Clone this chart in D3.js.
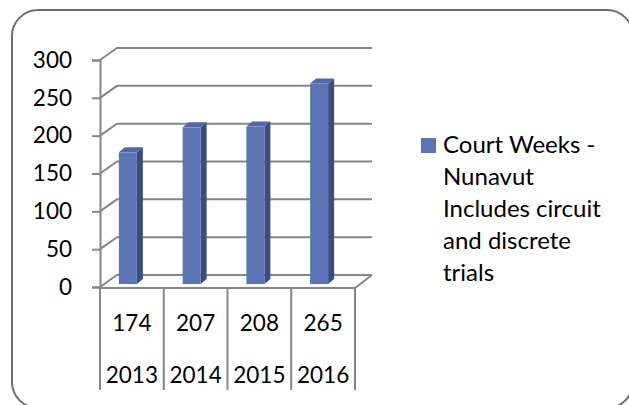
<!DOCTYPE html>
<html>
<head>
<meta charset="utf-8">
<script src="https://cdn.jsdelivr.net/npm/d3@7"></script>
<style>
  body { margin: 0; background: #fff; }
  text { font-family: Lato, "Liberation Sans", sans-serif; fill: #000; }
</style>
</head>
<body>
<svg id="chart" width="629" height="405"></svg>
<script>
const years = ["2013", "2014", "2015", "2016"];
const courtWeeks = [174, 207, 208, 265];
const yTicks = [0, 50, 100, 150, 200, 250, 300];
const legendLines = ["Court Weeks -", "Nunavut", "Includes circuit", "and discrete", "trials"];

const svg = d3.select("#chart");
const depthX = 17, depthY = -12;   // back wall offset
const gridColor = "#868686";
const fontSize = 22.5;

// outer rounded frame (runs off the right/bottom edge)
svg.append("rect")
  .attr("x", 12).attr("y", 10)
  .attr("width", 621).attr("height", 398)
  .attr("rx", 26).attr("ry", 26)
  .attr("fill", "none")
  .attr("stroke", "#6e6e6e")
  .attr("stroke-width", 2);

const y = d3.scaleLinear().domain([0, 300]).range([287, 60]);
const x = d3.scaleBand().domain(years).range([100, 355]);

// back wall gridlines + side wall diagonals
yTicks.forEach(function(t) {
  svg.append("path")
    .attr("d", "M100," + y(t) + "L" + (100 + depthX) + "," + (y(t) + depthY) + "H372")
    .attr("fill", "none")
    .attr("stroke", gridColor)
    .attr("stroke-width", 2);
});

// floor front and right edges
svg.append("path")
  .attr("d", "M100," + (y(0) + 1) + "H355L372," + (y(0) + depthY))
  .attr("fill", "none")
  .attr("stroke", gridColor)
  .attr("stroke-width", 2);

// y axis
const yAxis = svg.append("g")
  .attr("transform", "translate(100,0)")
  .call(d3.axisLeft(y).tickValues(yTicks).tickSize(8).tickPadding(20));
yAxis.select(".domain").attr("stroke", gridColor).attr("stroke-width", 2);
yAxis.selectAll(".tick line").attr("stroke", gridColor).attr("stroke-width", 2);
yAxis.selectAll(".tick text")
  .style("font-family", "Lato, 'Liberation Sans', sans-serif")
  .attr("font-size", fontSize)
  .attr("fill", "#000");

// category table below the floor
const dividers = x.domain().map(d => x(d)).concat([355]);
svg.selectAll("line.div")
  .data(dividers)
  .enter()
  .append("line")
  .attr("class", "div")
  .attr("x1", d => d).attr("x2", d => d)
  .attr("y1", y(0) + 1).attr("y2", 390)
  .attr("stroke", gridColor)
  .attr("stroke-width", 2);

svg.selectAll("text.val")
  .data(courtWeeks)
  .enter()
  .append("text")
  .attr("class", "val")
  .attr("x", (d, i) => x(years[i]) + x.bandwidth() / 2)
  .attr("y", 331)
  .attr("text-anchor", "middle")
  .attr("font-size", fontSize)
  .text(d => d);

svg.selectAll("text.year")
  .data(years)
  .enter()
  .append("text")
  .attr("class", "year")
  .attr("x", d => x(d) + x.bandwidth() / 2)
  .attr("y", 383)
  .attr("text-anchor", "middle")
  .attr("font-size", fontSize)
  .text(d => d);

// 3D bars
const barW = 18, sideX = 6, sideY = -5, lift = -3;
const bars = svg.selectAll("g.bar")
  .data(courtWeeks)
  .enter()
  .append("g")
  .attr("class", "bar");

function barLeft(i) { return x(years[i]) + x.bandwidth() / 2 - 4 - barW / 2; }

bars.append("path")   // side
  .attr("d", function(d, i) {
    const l = barLeft(i) + barW, top = y(d) + lift, bot = y(0) + lift;
    return "M" + l + "," + top + "L" + (l + sideX) + "," + (top + sideY) +
      "V" + (bot + sideY) + "L" + l + "," + bot + "Z";
  })
  .attr("fill", "#3d4c7c");

bars.append("path")   // top
  .attr("d", function(d, i) {
    const l = barLeft(i), top = y(d) + lift;
    return "M" + l + "," + top + "L" + (l + sideX) + "," + (top + sideY) +
      "H" + (l + barW + sideX) + "L" + (l + barW) + "," + top + "Z";
  })
  .attr("fill", "#5068a8");

bars.append("rect")   // front
  .attr("x", (d, i) => barLeft(i))
  .attr("y", d => y(d) + lift)
  .attr("width", barW)
  .attr("height", d => y(0) - y(d))
  .attr("fill", "#5b74b5");

// legend
svg.append("rect")
  .attr("x", 421).attr("y", 138)
  .attr("width", 15).attr("height", 15)
  .attr("fill", "#5b74b5");

svg.selectAll("text.leg")
  .data(legendLines)
  .enter()
  .append("text")
  .attr("class", "leg")
  .attr("x", 443)
  .attr("y", (d, i) => 153 + i * 32)
  .attr("font-size", 24)
  .text(d => d);
</script>
</body>
</html>
